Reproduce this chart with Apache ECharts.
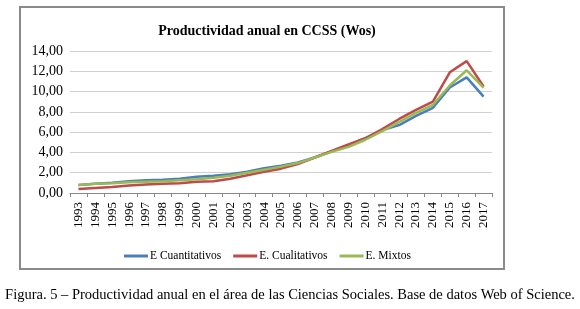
<!DOCTYPE html>
<html>
<head>
<meta charset="utf-8">
<script src="https://cdn.jsdelivr.net/npm/echarts@6/dist/echarts.min.js"></script>
<style>
  html, body { margin: 0; padding: 0; background: #fff; }
  #chart { width: 580px; height: 309px; }
</style>
</head>
<body>
<div id="chart"></div>
<script>
const years = ["1993","1994","1995","1996","1997","1998","1999","2000","2001","2002","2003","2004",
  "2005","2006","2007","2008","2009","2010","2011","2012","2013","2014","2015","2016","2017"];
const cuantitativos = [0.8,0.9,1.0,1.15,1.25,1.3,1.4,1.6,1.7,1.85,2.1,2.45,2.7,3.0,3.5,4.1,4.75,5.4,6.2,6.7,7.6,8.4,10.4,11.4,9.5];
const cualitativos = [0.4,0.5,0.6,0.75,0.85,0.9,0.95,1.1,1.15,1.4,1.75,2.1,2.4,2.85,3.5,4.15,4.8,5.4,6.3,7.3,8.2,9.0,11.9,13.0,10.5];
const mixtos = [0.8,0.9,0.95,1.05,1.1,1.15,1.25,1.35,1.5,1.7,2.0,2.3,2.6,2.95,3.5,4.05,4.55,5.25,6.1,7.0,7.9,8.7,10.6,12.1,10.4];
const yTicks = [0, 2, 4, 6, 8, 10, 12, 14];

const serif = "'Liberation Serif', 'DejaVu Serif', serif";
const chart = echarts.init(document.getElementById("chart"));

const mkSeries = (name, data, color) => ({
  name, type: "line", data, symbol: "none",
  lineStyle: { color, width: 2.5 }, itemStyle: { color }
});

chart.setOption({
  animation: false,
  title: {
    text: "Productividad anual en CCSS (Wos)",
    left: 262, top: 19, textAlign: "center",
    textStyle: { fontFamily: serif, fontSize: 14, fontWeight: "bold", color: "#000" }
  },
  legend: {
    left: 119, top: 245, itemGap: 12, itemWidth: 24, itemHeight: 3,
    icon: "rect",
    textStyle: { fontFamily: serif, fontSize: 11.5, color: "#000", padding: [0, 0, 0, -3] },
    data: ["E Cuantitativos", "E. Cualitativos", "E. Mixtos"]
  },
  grid: { left: 70, right: 88, top: 51, bottom: 116 },
  xAxis: {
    type: "category", data: years, boundaryGap: true,
    axisLine: { lineStyle: { color: "#888" } },
    axisTick: { show: true, length: 4, interval: 0, lineStyle: { color: "#888" } },
    axisLabel: { interval: 0, rotate: 90, fontFamily: serif, fontSize: 13, color: "#000", margin: 9 }
  },
  yAxis: {
    type: "value", min: 0, max: 14, interval: 2,
    axisLine: { show: false }, axisTick: { show: false },
    splitLine: { lineStyle: { color: "#d0d0d0" } },
    axisLabel: {
      fontFamily: serif, fontSize: 14, color: "#000", margin: 7,
      formatter: v => yTicks.includes(v) ? v.toFixed(2).replace(".", ",") : ""
    }
  },
  graphic: [
    { type: "rect", shape: { x: 20, y: 7, width: 484, height: 262 },
      style: { fill: "none", stroke: "#8a8a8a", lineWidth: 2 }, silent: true },
    { type: "text", left: "center", top: 288,
      style: { text: "Figura. 5 \u2013 Productividad anual en el área de las Ciencias Sociales. Base de datos Web of Science.",
        font: "14.5px " + serif, fill: "#000" } }
  ],
  series: [
    mkSeries("E Cuantitativos", cuantitativos, "#4a7ebb"),
    mkSeries("E. Cualitativos", cualitativos, "#be4b48"),
    mkSeries("E. Mixtos", mixtos, "#98b954")
  ]
});
</script>
</body>
</html>
